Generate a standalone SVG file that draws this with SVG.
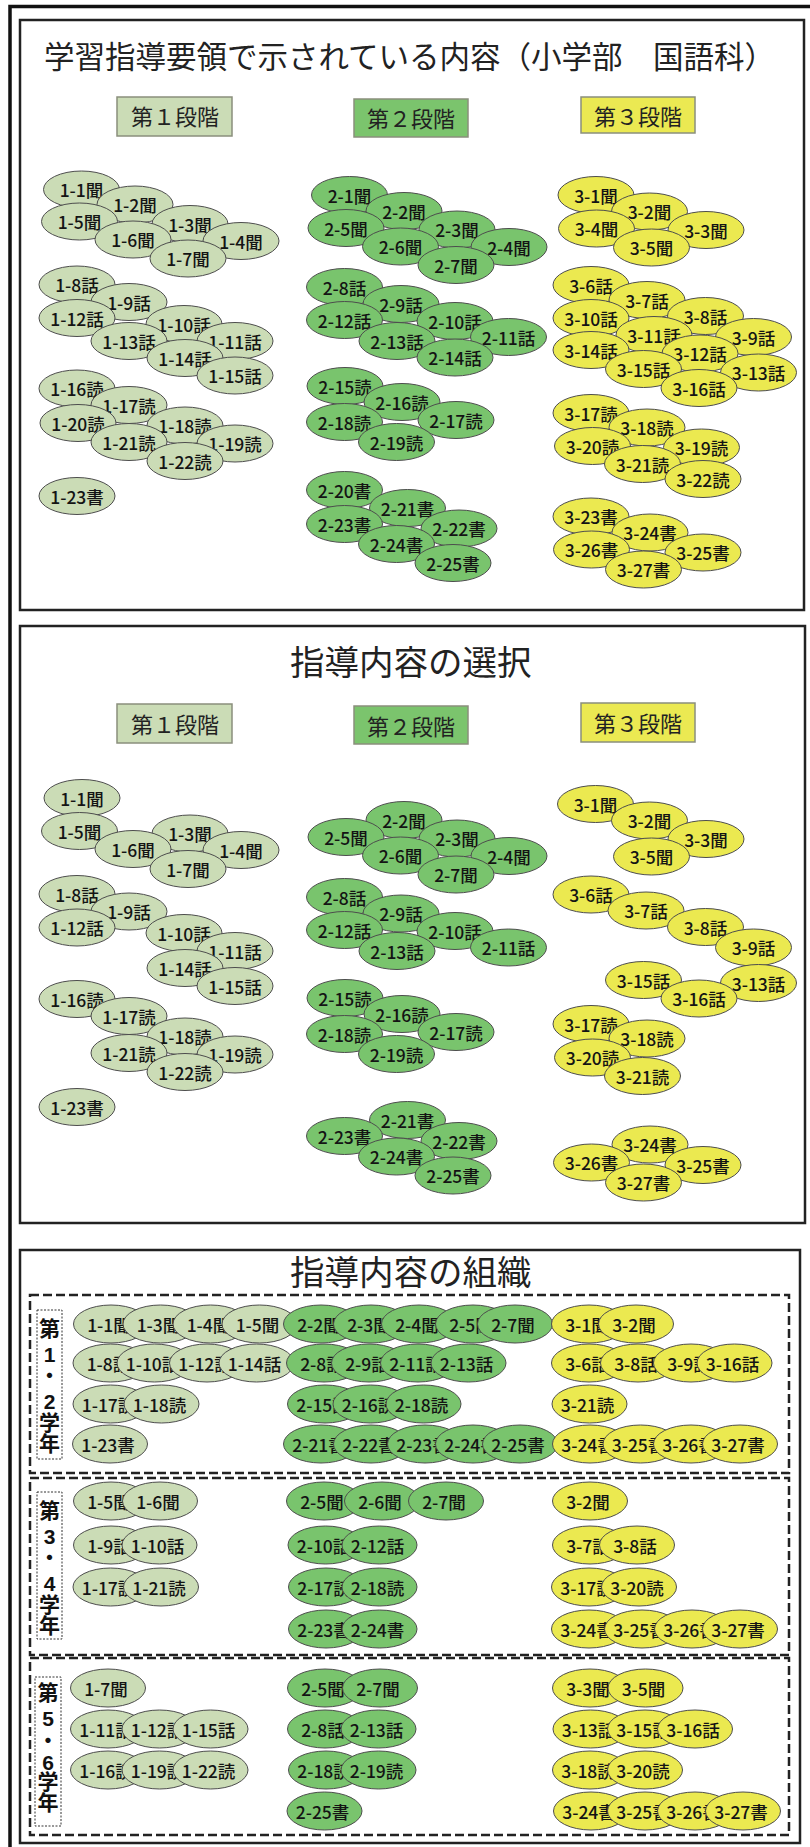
<svg xmlns="http://www.w3.org/2000/svg" width="810" height="1847" viewBox="0 0 810 1847">
<style>
.box{fill:#fff;stroke:#222;stroke-width:2.5}
.ttl{font-family:"Noto Sans CJK JP","Noto Sans CJK SC",sans-serif;fill:#222}
.lab text{font-family:"Noto Sans CJK JP","Noto Sans CJK SC",sans-serif;font-size:22px;text-anchor:middle;fill:#222}
.lab rect{stroke:#8a8f7c;stroke-width:1.5}
.f1{fill:#cbdcb6}.f2{fill:#7bc46d}.f3{fill:#ebe952}
.n text{font-family:"Noto Sans CJK JP","Noto Sans CJK SC",sans-serif;font-size:17.5px;font-weight:500;text-anchor:middle;fill:#141414}
.n ellipse{stroke:#4d4d4d;stroke-width:1}
.c1 ellipse{fill:#cbdcb6}.c2 ellipse{fill:#79c46d}.c3 ellipse{fill:#ebe950}
.sec{fill:none;stroke:#222;stroke-width:2.5;stroke-dasharray:9 4}
.yr rect{fill:#fff;stroke:#333;stroke-width:1;stroke-dasharray:2 1.5}
.yr text{font-family:"Liberation Sans","Noto Sans CJK JP",sans-serif;font-size:21px;font-weight:bold;text-anchor:middle;fill:#111}
</style>
<path d="M10,1847 V6.5 H810" fill="none" stroke="#111" stroke-width="3.5"/>

<g id="panel1">
<rect class="box" x="20" y="20" width="784" height="590"/>
<text class="ttl" x="44" y="67.5" font-size="30.5">学習指導要領で示されている内容（小学部　国語科）</text>
<g class="lab" id="p1-stage1"><rect class="f1" x="117" y="97" width="115" height="39"/><text x="175" y="125">第１段階</text></g>
<g class="lab" id="p1-stage2"><rect class="f2" x="354" y="99" width="114" height="38"/><text x="411" y="127">第２段階</text></g>
<g class="lab" id="p1-stage3"><rect class="f3" x="581" y="97" width="114" height="36"/><text x="638" y="124.5">第３段階</text></g>
</g>

<g id="p1-nodes">
<g id="p1-1-1" class="n c1"><ellipse cx="81.5" cy="189.5" rx="38" ry="18.5"/><text x="81.5" y="197">1-1聞</text></g>
<g id="p1-1-2" class="n c1"><ellipse cx="135" cy="204.5" rx="38" ry="18.5"/><text x="135" y="212">1-2聞</text></g>
<g id="p1-1-3" class="n c1"><ellipse cx="190" cy="224" rx="38" ry="18.5"/><text x="190" y="231.5">1-3聞</text></g>
<g id="p1-1-4" class="n c1"><ellipse cx="241" cy="241" rx="38" ry="18.5"/><text x="241" y="248.5">1-4聞</text></g>
<g id="p1-1-5" class="n c1"><ellipse cx="79.5" cy="221.5" rx="38" ry="18.5"/><text x="79.5" y="229">1-5聞</text></g>
<g id="p1-1-6" class="n c1"><ellipse cx="133" cy="239.5" rx="38" ry="18.5"/><text x="133" y="247">1-6聞</text></g>
<g id="p1-1-7" class="n c1"><ellipse cx="188" cy="258.5" rx="38" ry="18.5"/><text x="188" y="266">1-7聞</text></g>
<g id="p1-1-8" class="n c1"><ellipse cx="77" cy="284.5" rx="38" ry="18.5"/><text x="77" y="292">1-8話</text></g>
<g id="p1-1-9" class="n c1"><ellipse cx="129" cy="302" rx="38" ry="18.5"/><text x="129" y="309.5">1-9話</text></g>
<g id="p1-1-10" class="n c1"><ellipse cx="184" cy="324" rx="38" ry="18.5"/><text x="184" y="331.5">1-10話</text></g>
<g id="p1-1-11" class="n c1"><ellipse cx="235" cy="341" rx="38" ry="18.5"/><text x="235" y="348.5">1-11話</text></g>
<g id="p1-1-12" class="n c1"><ellipse cx="77" cy="318" rx="38" ry="18.5"/><text x="77" y="325.5">1-12話</text></g>
<g id="p1-1-13" class="n c1"><ellipse cx="129" cy="341" rx="38" ry="18.5"/><text x="129" y="348.5">1-13話</text></g>
<g id="p1-1-14" class="n c1"><ellipse cx="185" cy="358" rx="38" ry="18.5"/><text x="185" y="365.5">1-14話</text></g>
<g id="p1-1-15" class="n c1"><ellipse cx="235" cy="375.5" rx="38" ry="18.5"/><text x="235" y="383">1-15話</text></g>
<g id="p1-1-16" class="n c1"><ellipse cx="77" cy="388.5" rx="38" ry="18.5"/><text x="77" y="396">1-16読</text></g>
<g id="p1-1-17" class="n c1"><ellipse cx="129" cy="405" rx="38" ry="18.5"/><text x="129" y="412.5">1-17読</text></g>
<g id="p1-1-18" class="n c1"><ellipse cx="185" cy="425.5" rx="38" ry="18.5"/><text x="185" y="433">1-18読</text></g>
<g id="p1-1-19" class="n c1"><ellipse cx="235" cy="443.5" rx="38" ry="18.5"/><text x="235" y="451">1-19読</text></g>
<g id="p1-1-20" class="n c1"><ellipse cx="78" cy="423" rx="38" ry="18.5"/><text x="78" y="430.5">1-20読</text></g>
<g id="p1-1-21" class="n c1"><ellipse cx="129" cy="442" rx="38" ry="18.5"/><text x="129" y="449.5">1-21読</text></g>
<g id="p1-1-22" class="n c1"><ellipse cx="185" cy="461" rx="38" ry="18.5"/><text x="185" y="468.5">1-22読</text></g>
<g id="p1-1-23" class="n c1"><ellipse cx="77" cy="496" rx="38" ry="18.5"/><text x="77" y="503.5">1-23書</text></g>

<g id="p1-2-1" class="n c2"><ellipse cx="349.5" cy="195" rx="38" ry="18.5"/><text x="349.5" y="202.5">2-1聞</text></g>
<g id="p1-2-2" class="n c2"><ellipse cx="404" cy="211" rx="38" ry="18.5"/><text x="404" y="218.5">2-2聞</text></g>
<g id="p1-2-3" class="n c2"><ellipse cx="457" cy="229.5" rx="38" ry="18.5"/><text x="457" y="237">2-3聞</text></g>
<g id="p1-2-4" class="n c2"><ellipse cx="509" cy="247" rx="38" ry="18.5"/><text x="509" y="254.5">2-4聞</text></g>
<g id="p1-2-5" class="n c2"><ellipse cx="346" cy="228" rx="38" ry="18.5"/><text x="346" y="235.5">2-5聞</text></g>
<g id="p1-2-6" class="n c2"><ellipse cx="400.5" cy="246.5" rx="38" ry="18.5"/><text x="400.5" y="254">2-6聞</text></g>
<g id="p1-2-7" class="n c2"><ellipse cx="456" cy="265" rx="38" ry="18.5"/><text x="456" y="272.5">2-7聞</text></g>
<g id="p1-2-8" class="n c2"><ellipse cx="344.5" cy="287" rx="38" ry="18.5"/><text x="344.5" y="294.5">2-8話</text></g>
<g id="p1-2-9" class="n c2"><ellipse cx="401" cy="304" rx="38" ry="18.5"/><text x="401" y="311.5">2-9話</text></g>
<g id="p1-2-10" class="n c2"><ellipse cx="455" cy="321" rx="38" ry="18.5"/><text x="455" y="328.5">2-10話</text></g>
<g id="p1-2-11" class="n c2"><ellipse cx="508.5" cy="337" rx="38" ry="18.5"/><text x="508.5" y="344.5">2-11話</text></g>
<g id="p1-2-12" class="n c2"><ellipse cx="344.5" cy="320" rx="38" ry="18.5"/><text x="344.5" y="327.5">2-12話</text></g>
<g id="p1-2-13" class="n c2"><ellipse cx="397" cy="341" rx="38" ry="18.5"/><text x="397" y="348.5">2-13話</text></g>
<g id="p1-2-14" class="n c2"><ellipse cx="455" cy="357.5" rx="38" ry="18.5"/><text x="455" y="365">2-14話</text></g>
<g id="p1-2-15" class="n c2"><ellipse cx="345" cy="386" rx="38" ry="18.5"/><text x="345" y="393.5">2-15読</text></g>
<g id="p1-2-16" class="n c2"><ellipse cx="402" cy="402" rx="38" ry="18.5"/><text x="402" y="409.5">2-16読</text></g>
<g id="p1-2-17" class="n c2"><ellipse cx="456" cy="420" rx="38" ry="18.5"/><text x="456" y="427.5">2-17読</text></g>
<g id="p1-2-18" class="n c2"><ellipse cx="344.5" cy="422" rx="38" ry="18.5"/><text x="344.5" y="429.5">2-18読</text></g>
<g id="p1-2-19" class="n c2"><ellipse cx="396.5" cy="442" rx="38" ry="18.5"/><text x="396.5" y="449.5">2-19読</text></g>
<g id="p1-2-20" class="n c2"><ellipse cx="344.5" cy="490" rx="38" ry="18.5"/><text x="344.5" y="497.5">2-20書</text></g>
<g id="p1-2-21" class="n c2"><ellipse cx="407.5" cy="508" rx="38" ry="18.5"/><text x="407.5" y="515.5">2-21書</text></g>
<g id="p1-2-22" class="n c2"><ellipse cx="459" cy="528.5" rx="38" ry="18.5"/><text x="459" y="536">2-22書</text></g>
<g id="p1-2-23" class="n c2"><ellipse cx="344.5" cy="524" rx="38" ry="18.5"/><text x="344.5" y="531.5">2-23書</text></g>
<g id="p1-2-24" class="n c2"><ellipse cx="396.5" cy="544" rx="38" ry="18.5"/><text x="396.5" y="551.5">2-24書</text></g>
<g id="p1-2-25" class="n c2"><ellipse cx="453" cy="563" rx="38" ry="18.5"/><text x="453" y="570.5">2-25書</text></g>

<g id="p1-3-1" class="n c3"><ellipse cx="596" cy="195" rx="38" ry="18.5"/><text x="596" y="202.5">3-1聞</text></g>
<g id="p1-3-2" class="n c3"><ellipse cx="649.5" cy="211.5" rx="38" ry="18.5"/><text x="649.5" y="219">3-2聞</text></g>
<g id="p1-3-3" class="n c3"><ellipse cx="706" cy="230" rx="38" ry="18.5"/><text x="706" y="237.5">3-3聞</text></g>
<g id="p1-3-4" class="n c3"><ellipse cx="596.5" cy="228.5" rx="38" ry="18.5"/><text x="596.5" y="236">3-4聞</text></g>
<g id="p1-3-5" class="n c3"><ellipse cx="651.5" cy="247.5" rx="38" ry="18.5"/><text x="651.5" y="255">3-5聞</text></g>
<g id="p1-3-6" class="n c3"><ellipse cx="591" cy="285" rx="38" ry="18.5"/><text x="591" y="292.5">3-6話</text></g>
<g id="p1-3-7" class="n c3"><ellipse cx="647" cy="300" rx="38" ry="18.5"/><text x="647" y="307.5">3-7話</text></g>
<g id="p1-3-8" class="n c3"><ellipse cx="705.5" cy="316" rx="38" ry="18.5"/><text x="705.5" y="323.5">3-8話</text></g>
<g id="p1-3-9" class="n c3"><ellipse cx="753.5" cy="337" rx="38" ry="18.5"/><text x="753.5" y="344.5">3-9話</text></g>
<g id="p1-3-10" class="n c3"><ellipse cx="591" cy="318" rx="38" ry="18.5"/><text x="591" y="325.5">3-10話</text></g>
<g id="p1-3-11" class="n c3"><ellipse cx="654" cy="335" rx="38" ry="18.5"/><text x="654" y="342.5">3-11話</text></g>
<g id="p1-3-12" class="n c3"><ellipse cx="700" cy="353.5" rx="38" ry="18.5"/><text x="700" y="361">3-12話</text></g>
<g id="p1-3-13" class="n c3"><ellipse cx="758.5" cy="372.5" rx="38" ry="18.5"/><text x="758.5" y="380">3-13話</text></g>
<g id="p1-3-14" class="n c3"><ellipse cx="591" cy="350" rx="38" ry="18.5"/><text x="591" y="357.5">3-14話</text></g>
<g id="p1-3-15" class="n c3"><ellipse cx="643.5" cy="369" rx="38" ry="18.5"/><text x="643.5" y="376.5">3-15話</text></g>
<g id="p1-3-16" class="n c3"><ellipse cx="699" cy="388" rx="38" ry="18.5"/><text x="699" y="395.5">3-16話</text></g>
<g id="p1-3-17" class="n c3"><ellipse cx="591" cy="413" rx="38" ry="18.5"/><text x="591" y="420.5">3-17読</text></g>
<g id="p1-3-18" class="n c3"><ellipse cx="647" cy="427.5" rx="38" ry="18.5"/><text x="647" y="435">3-18読</text></g>
<g id="p1-3-19" class="n c3"><ellipse cx="701.5" cy="447.5" rx="38" ry="18.5"/><text x="701.5" y="455">3-19読</text></g>
<g id="p1-3-20" class="n c3"><ellipse cx="592.5" cy="446" rx="38" ry="18.5"/><text x="592.5" y="453.5">3-20読</text></g>
<g id="p1-3-21" class="n c3"><ellipse cx="642.5" cy="464" rx="38" ry="18.5"/><text x="642.5" y="471.5">3-21読</text></g>
<g id="p1-3-22" class="n c3"><ellipse cx="703" cy="479" rx="38" ry="18.5"/><text x="703" y="486.5">3-22読</text></g>
<g id="p1-3-23" class="n c3"><ellipse cx="591" cy="516.5" rx="38" ry="18.5"/><text x="591" y="524">3-23書</text></g>
<g id="p1-3-24" class="n c3"><ellipse cx="650" cy="532.5" rx="38" ry="18.5"/><text x="650" y="540">3-24書</text></g>
<g id="p1-3-25" class="n c3"><ellipse cx="703" cy="552.5" rx="38" ry="18.5"/><text x="703" y="560">3-25書</text></g>
<g id="p1-3-26" class="n c3"><ellipse cx="591.5" cy="549.5" rx="38" ry="18.5"/><text x="591.5" y="557">3-26書</text></g>
<g id="p1-3-27" class="n c3"><ellipse cx="643.5" cy="569.5" rx="38" ry="18.5"/><text x="643.5" y="577">3-27書</text></g>
</g>

<g id="panel2">
<rect class="box" x="20" y="626" width="785" height="597"/>
<text class="ttl" x="290" y="675" font-size="34.5">指導内容の選択</text>
<g class="lab" id="p2-stage1"><rect class="f1" x="117" y="704" width="115" height="39"/><text x="175" y="733">第１段階</text></g>
<g class="lab" id="p2-stage2"><rect class="f2" x="354" y="706" width="114" height="38"/><text x="411" y="735">第２段階</text></g>
<g class="lab" id="p2-stage3"><rect class="f3" x="581" y="703" width="114" height="39"/><text x="638" y="732">第３段階</text></g>
</g>

<g id="p2-nodes">
<g id="p2-1-1" class="n c1"><ellipse cx="82" cy="798" rx="38" ry="18.5"/><text x="82" y="805.5">1-1聞</text></g>
<g id="p2-1-3" class="n c1"><ellipse cx="190" cy="833.5" rx="38" ry="18.5"/><text x="190" y="841">1-3聞</text></g>
<g id="p2-1-4" class="n c1"><ellipse cx="241" cy="850" rx="38" ry="18.5"/><text x="241" y="857.5">1-4聞</text></g>
<g id="p2-1-5" class="n c1"><ellipse cx="79.5" cy="831" rx="38" ry="18.5"/><text x="79.5" y="838.5">1-5聞</text></g>
<g id="p2-1-6" class="n c1"><ellipse cx="133" cy="849" rx="38" ry="18.5"/><text x="133" y="856.5">1-6聞</text></g>
<g id="p2-1-7" class="n c1"><ellipse cx="188" cy="869" rx="38" ry="18.5"/><text x="188" y="876.5">1-7聞</text></g>
<g id="p2-1-8" class="n c1"><ellipse cx="77" cy="894" rx="38" ry="18.5"/><text x="77" y="901.5">1-8話</text></g>
<g id="p2-1-9" class="n c1"><ellipse cx="129" cy="911.5" rx="38" ry="18.5"/><text x="129" y="919">1-9話</text></g>
<g id="p2-1-10" class="n c1"><ellipse cx="184" cy="933" rx="38" ry="18.5"/><text x="184" y="940.5">1-10話</text></g>
<g id="p2-1-11" class="n c1"><ellipse cx="235" cy="951" rx="38" ry="18.5"/><text x="235" y="958.5">1-11話</text></g>
<g id="p2-1-12" class="n c1"><ellipse cx="77" cy="927.5" rx="38" ry="18.5"/><text x="77" y="935">1-12話</text></g>
<g id="p2-1-14" class="n c1"><ellipse cx="185" cy="968" rx="38" ry="18.5"/><text x="185" y="975.5">1-14話</text></g>
<g id="p2-1-15" class="n c1"><ellipse cx="235" cy="986" rx="38" ry="18.5"/><text x="235" y="993.5">1-15話</text></g>
<g id="p2-1-16" class="n c1"><ellipse cx="77" cy="999" rx="38" ry="18.5"/><text x="77" y="1006.5">1-16読</text></g>
<g id="p2-1-17" class="n c1"><ellipse cx="129" cy="1016" rx="38" ry="18.5"/><text x="129" y="1023.5">1-17読</text></g>
<g id="p2-1-18" class="n c1"><ellipse cx="185" cy="1036.5" rx="38" ry="18.5"/><text x="185" y="1044">1-18読</text></g>
<g id="p2-1-19" class="n c1"><ellipse cx="235" cy="1054.5" rx="38" ry="18.5"/><text x="235" y="1062">1-19読</text></g>
<g id="p2-1-21" class="n c1"><ellipse cx="129" cy="1053" rx="38" ry="18.5"/><text x="129" y="1060.5">1-21読</text></g>
<g id="p2-1-22" class="n c1"><ellipse cx="185" cy="1072" rx="38" ry="18.5"/><text x="185" y="1079.5">1-22読</text></g>
<g id="p2-1-23" class="n c1"><ellipse cx="77" cy="1107" rx="38" ry="18.5"/><text x="77" y="1114.5">1-23書</text></g>

<g id="p2-2-2" class="n c2"><ellipse cx="404" cy="820" rx="38" ry="18.5"/><text x="404" y="827.5">2-2聞</text></g>
<g id="p2-2-3" class="n c2"><ellipse cx="457" cy="838.5" rx="38" ry="18.5"/><text x="457" y="846">2-3聞</text></g>
<g id="p2-2-4" class="n c2"><ellipse cx="509" cy="856" rx="38" ry="18.5"/><text x="509" y="863.5">2-4聞</text></g>
<g id="p2-2-5" class="n c2"><ellipse cx="346" cy="837" rx="38" ry="18.5"/><text x="346" y="844.5">2-5聞</text></g>
<g id="p2-2-6" class="n c2"><ellipse cx="400.5" cy="855.5" rx="38" ry="18.5"/><text x="400.5" y="863">2-6聞</text></g>
<g id="p2-2-7" class="n c2"><ellipse cx="456" cy="874.5" rx="38" ry="18.5"/><text x="456" y="882">2-7聞</text></g>
<g id="p2-2-8" class="n c2"><ellipse cx="344.5" cy="897" rx="38" ry="18.5"/><text x="344.5" y="904.5">2-8話</text></g>
<g id="p2-2-9" class="n c2"><ellipse cx="401" cy="913.5" rx="38" ry="18.5"/><text x="401" y="921">2-9話</text></g>
<g id="p2-2-10" class="n c2"><ellipse cx="455" cy="931" rx="38" ry="18.5"/><text x="455" y="938.5">2-10話</text></g>
<g id="p2-2-11" class="n c2"><ellipse cx="508.5" cy="947.5" rx="38" ry="18.5"/><text x="508.5" y="955">2-11話</text></g>
<g id="p2-2-12" class="n c2"><ellipse cx="344.5" cy="930" rx="38" ry="18.5"/><text x="344.5" y="937.5">2-12話</text></g>
<g id="p2-2-13" class="n c2"><ellipse cx="397" cy="951" rx="38" ry="18.5"/><text x="397" y="958.5">2-13話</text></g>
<g id="p2-2-15" class="n c2"><ellipse cx="345" cy="998" rx="38" ry="18.5"/><text x="345" y="1005.5">2-15読</text></g>
<g id="p2-2-16" class="n c2"><ellipse cx="402" cy="1014" rx="38" ry="18.5"/><text x="402" y="1021.5">2-16読</text></g>
<g id="p2-2-17" class="n c2"><ellipse cx="456" cy="1032" rx="38" ry="18.5"/><text x="456" y="1039.5">2-17読</text></g>
<g id="p2-2-18" class="n c2"><ellipse cx="344.5" cy="1034" rx="38" ry="18.5"/><text x="344.5" y="1041.5">2-18読</text></g>
<g id="p2-2-19" class="n c2"><ellipse cx="396.5" cy="1054" rx="38" ry="18.5"/><text x="396.5" y="1061.5">2-19読</text></g>
<g id="p2-2-21" class="n c2"><ellipse cx="407.5" cy="1120" rx="38" ry="18.5"/><text x="407.5" y="1127.5">2-21書</text></g>
<g id="p2-2-22" class="n c2"><ellipse cx="459" cy="1141" rx="38" ry="18.5"/><text x="459" y="1148.5">2-22書</text></g>
<g id="p2-2-23" class="n c2"><ellipse cx="344.5" cy="1136" rx="38" ry="18.5"/><text x="344.5" y="1143.5">2-23書</text></g>
<g id="p2-2-24" class="n c2"><ellipse cx="396.5" cy="1156.5" rx="38" ry="18.5"/><text x="396.5" y="1164">2-24書</text></g>
<g id="p2-2-25" class="n c2"><ellipse cx="453" cy="1175.5" rx="38" ry="18.5"/><text x="453" y="1183">2-25書</text></g>

<g id="p2-3-1" class="n c3"><ellipse cx="595.5" cy="804" rx="38" ry="18.5"/><text x="595.5" y="811.5">3-1聞</text></g>
<g id="p2-3-2" class="n c3"><ellipse cx="649.5" cy="820.5" rx="38" ry="18.5"/><text x="649.5" y="828">3-2聞</text></g>
<g id="p2-3-3" class="n c3"><ellipse cx="706" cy="839" rx="38" ry="18.5"/><text x="706" y="846.5">3-3聞</text></g>
<g id="p2-3-5" class="n c3"><ellipse cx="651.5" cy="856.5" rx="38" ry="18.5"/><text x="651.5" y="864">3-5聞</text></g>
<g id="p2-3-6" class="n c3"><ellipse cx="591" cy="894.5" rx="38" ry="18.5"/><text x="591" y="902">3-6話</text></g>
<g id="p2-3-7" class="n c3"><ellipse cx="646" cy="910.5" rx="38" ry="18.5"/><text x="646" y="918">3-7話</text></g>
<g id="p2-3-8" class="n c3"><ellipse cx="705.5" cy="927" rx="38" ry="18.5"/><text x="705.5" y="934.5">3-8話</text></g>
<g id="p2-3-9" class="n c3"><ellipse cx="753.5" cy="947.5" rx="38" ry="18.5"/><text x="753.5" y="955">3-9話</text></g>
<g id="p2-3-13" class="n c3"><ellipse cx="758.5" cy="983" rx="38" ry="18.5"/><text x="758.5" y="990.5">3-13話</text></g>
<g id="p2-3-15" class="n c3"><ellipse cx="643.5" cy="980" rx="38" ry="18.5"/><text x="643.5" y="987.5">3-15話</text></g>
<g id="p2-3-16" class="n c3"><ellipse cx="699" cy="998.5" rx="38" ry="18.5"/><text x="699" y="1006">3-16話</text></g>
<g id="p2-3-17" class="n c3"><ellipse cx="591" cy="1024" rx="38" ry="18.5"/><text x="591" y="1031.5">3-17読</text></g>
<g id="p2-3-18" class="n c3"><ellipse cx="647" cy="1038.5" rx="38" ry="18.5"/><text x="647" y="1046">3-18読</text></g>
<g id="p2-3-20" class="n c3"><ellipse cx="592.5" cy="1057.5" rx="38" ry="18.5"/><text x="592.5" y="1065">3-20読</text></g>
<g id="p2-3-21" class="n c3"><ellipse cx="642.5" cy="1076" rx="38" ry="18.5"/><text x="642.5" y="1083.5">3-21読</text></g>
<g id="p2-3-24" class="n c3"><ellipse cx="650" cy="1144.5" rx="38" ry="18.5"/><text x="650" y="1152">3-24書</text></g>
<g id="p2-3-25" class="n c3"><ellipse cx="703" cy="1165" rx="38" ry="18.5"/><text x="703" y="1172.5">3-25書</text></g>
<g id="p2-3-26" class="n c3"><ellipse cx="591.5" cy="1162.5" rx="38" ry="18.5"/><text x="591.5" y="1170">3-26書</text></g>
<g id="p2-3-27" class="n c3"><ellipse cx="643.5" cy="1182.5" rx="38" ry="18.5"/><text x="643.5" y="1190">3-27書</text></g>
</g>

<g id="panel3">
<rect class="box" x="20" y="1250" width="780" height="593"/>
<text class="ttl" x="290" y="1285" font-size="34.5">指導内容の組織</text>
<rect class="sec" x="30" y="1295" width="759" height="178"/>
<rect class="sec" x="30" y="1478" width="759" height="177"/>
<rect class="sec" x="30" y="1658" width="759" height="177"/>
<g class="yr" id="yr12"><rect x="37" y="1310" width="25" height="149"/>
<text x="49.5" y="1336">第</text><text x="49.5" y="1361.5">1</text><text x="49.5" y="1383">・</text><text x="49.5" y="1408.5">2</text><text x="49.5" y="1430">学</text><text x="49.5" y="1451">年</text></g>
<g class="yr" id="yr34"><rect x="37" y="1492" width="25" height="147"/>
<text x="49.5" y="1518">第</text><text x="49.5" y="1543.5">3</text><text x="49.5" y="1565">・</text><text x="49.5" y="1590.5">4</text><text x="49.5" y="1612">学</text><text x="49.5" y="1633">年</text></g>
<g class="yr" id="yr56"><rect x="35" y="1677" width="26" height="149"/>
<text x="48" y="1700">第</text><text x="48" y="1725.5">5</text><text x="48" y="1748">・</text><text x="48" y="1769.5">6</text><text x="48" y="1789">学</text><text x="48" y="1810">年</text></g>
</g>

<g id="p3-nodes">
<g id="a-1-1" class="n c1"><ellipse cx="111" cy="1324" rx="37.5" ry="19"/><text x="109" y="1331.5">1-1聞</text></g>
<g id="a-1-3" class="n c1"><ellipse cx="160.5" cy="1324" rx="37.5" ry="19"/><text x="158.5" y="1331.5">1-3聞</text></g>
<g id="a-1-4" class="n c1"><ellipse cx="210.5" cy="1324" rx="37.5" ry="19"/><text x="208.5" y="1331.5">1-4聞</text></g>
<g id="a-1-5" class="n c1"><ellipse cx="259.5" cy="1324" rx="37.5" ry="19"/><text x="257.5" y="1331.5">1-5聞</text></g>
<g id="a-2-2" class="n c2"><ellipse cx="321" cy="1324" rx="37.5" ry="19"/><text x="319" y="1331.5">2-2聞</text></g>
<g id="a-2-3" class="n c2"><ellipse cx="371" cy="1324" rx="37.5" ry="19"/><text x="369" y="1331.5">2-3聞</text></g>
<g id="a-2-4" class="n c2"><ellipse cx="419" cy="1324" rx="37.5" ry="19"/><text x="417" y="1331.5">2-4聞</text></g>
<g id="a-2-5" class="n c2"><ellipse cx="473" cy="1324" rx="37.5" ry="19"/><text x="471" y="1331.5">2-5聞</text></g>
<g id="a-2-7" class="n c2"><ellipse cx="515" cy="1324" rx="37.5" ry="19"/><text x="513" y="1331.5">2-7聞</text></g>
<g id="a-3-1" class="n c3"><ellipse cx="589" cy="1324" rx="37.5" ry="19"/><text x="587" y="1331.5">3-1聞</text></g>
<g id="a-3-2" class="n c3"><ellipse cx="636" cy="1324" rx="37.5" ry="19"/><text x="634" y="1331.5">3-2聞</text></g>
<g id="a-1-8" class="n c1"><ellipse cx="110.5" cy="1363" rx="37.5" ry="19"/><text x="108.5" y="1370.5">1-8話</text></g>
<g id="a-1-10" class="n c1"><ellipse cx="154.5" cy="1363" rx="37.5" ry="19"/><text x="152.5" y="1370.5">1-10話</text></g>
<g id="a-1-12" class="n c1"><ellipse cx="207" cy="1363" rx="37.5" ry="19"/><text x="205" y="1370.5">1-12話</text></g>
<g id="a-1-14" class="n c1"><ellipse cx="256.5" cy="1363" rx="37.5" ry="19"/><text x="254.5" y="1370.5">1-14話</text></g>
<g id="a-2-8" class="n c2"><ellipse cx="324" cy="1363" rx="37.5" ry="19"/><text x="322" y="1370.5">2-8話</text></g>
<g id="a-2-9" class="n c2"><ellipse cx="369" cy="1363" rx="37.5" ry="19"/><text x="367" y="1370.5">2-9話</text></g>
<g id="a-2-11" class="n c2"><ellipse cx="418" cy="1363" rx="37.5" ry="19"/><text x="416" y="1370.5">2-11話</text></g>
<g id="a-2-13" class="n c2"><ellipse cx="468.5" cy="1363" rx="37.5" ry="19"/><text x="466.5" y="1370.5">2-13話</text></g>
<g id="a-3-6" class="n c3"><ellipse cx="589" cy="1363" rx="37.5" ry="19"/><text x="587" y="1370.5">3-6話</text></g>
<g id="a-3-8" class="n c3"><ellipse cx="638" cy="1363" rx="37.5" ry="19"/><text x="636" y="1370.5">3-8話</text></g>
<g id="a-3-9" class="n c3"><ellipse cx="691" cy="1363" rx="37.5" ry="19"/><text x="689" y="1370.5">3-9話</text></g>
<g id="a-3-16" class="n c3"><ellipse cx="734.5" cy="1363" rx="37.5" ry="19"/><text x="732.5" y="1370.5">3-16話</text></g>
<g id="a-1-17" class="n c1"><ellipse cx="110.5" cy="1404" rx="37.5" ry="19"/><text x="108.5" y="1411.5">1-17読</text></g>
<g id="a-1-18" class="n c1"><ellipse cx="161.5" cy="1404" rx="37.5" ry="19"/><text x="159.5" y="1411.5">1-18読</text></g>
<g id="a-2-15" class="n c2"><ellipse cx="325" cy="1404" rx="37.5" ry="19"/><text x="323" y="1411.5">2-15読</text></g>
<g id="a-2-16" class="n c2"><ellipse cx="370.5" cy="1404" rx="37.5" ry="19"/><text x="368.5" y="1411.5">2-16読</text></g>
<g id="a-2-18" class="n c2"><ellipse cx="423.5" cy="1404" rx="37.5" ry="19"/><text x="421.5" y="1411.5">2-18読</text></g>
<g id="a-3-21" class="n c3"><ellipse cx="589.5" cy="1404" rx="37.5" ry="19"/><text x="587.5" y="1411.5">3-21読</text></g>
<g id="a-1-23" class="n c1"><ellipse cx="110" cy="1444" rx="37.5" ry="19"/><text x="108" y="1451.5">1-23書</text></g>
<g id="a-2-21" class="n c2"><ellipse cx="321" cy="1444" rx="37.5" ry="19"/><text x="319" y="1451.5">2-21書</text></g>
<g id="a-2-22" class="n c2"><ellipse cx="371" cy="1444" rx="37.5" ry="19"/><text x="369" y="1451.5">2-22書</text></g>
<g id="a-2-23" class="n c2"><ellipse cx="425" cy="1444" rx="37.5" ry="19"/><text x="423" y="1451.5">2-23書</text></g>
<g id="a-2-24" class="n c2"><ellipse cx="473" cy="1444" rx="37.5" ry="19"/><text x="471" y="1451.5">2-24書</text></g>
<g id="a-2-25" class="n c2"><ellipse cx="520" cy="1444" rx="37.5" ry="19"/><text x="518" y="1451.5">2-25書</text></g>
<g id="a-3-24" class="n c3"><ellipse cx="590" cy="1444" rx="37.5" ry="19"/><text x="588" y="1451.5">3-24書</text></g>
<g id="a-3-25" class="n c3"><ellipse cx="640.5" cy="1444" rx="37.5" ry="19"/><text x="638.5" y="1451.5">3-25書</text></g>
<g id="a-3-26" class="n c3"><ellipse cx="691" cy="1444" rx="37.5" ry="19"/><text x="689" y="1451.5">3-26書</text></g>
<g id="a-3-27" class="n c3"><ellipse cx="740" cy="1444" rx="37.5" ry="19"/><text x="738" y="1451.5">3-27書</text></g>

<g id="b-1-5" class="n c1"><ellipse cx="111" cy="1501" rx="37.5" ry="19"/><text x="109" y="1508.5">1-5聞</text></g>
<g id="b-1-6" class="n c1"><ellipse cx="160" cy="1501" rx="37.5" ry="19"/><text x="158" y="1508.5">1-6聞</text></g>
<g id="b-2-5" class="n c2"><ellipse cx="324" cy="1501" rx="37.5" ry="19"/><text x="322" y="1508.5">2-5聞</text></g>
<g id="b-2-6" class="n c2"><ellipse cx="382" cy="1501" rx="37.5" ry="19"/><text x="380" y="1508.5">2-6聞</text></g>
<g id="b-2-7" class="n c2"><ellipse cx="446" cy="1501" rx="37.5" ry="19"/><text x="444" y="1508.5">2-7聞</text></g>
<g id="b-3-2" class="n c3"><ellipse cx="590" cy="1501" rx="37.5" ry="19"/><text x="588" y="1508.5">3-2聞</text></g>
<g id="b-1-9" class="n c1"><ellipse cx="111" cy="1545" rx="37.5" ry="19"/><text x="109" y="1552.5">1-9話</text></g>
<g id="b-1-10" class="n c1"><ellipse cx="159.5" cy="1545" rx="37.5" ry="19"/><text x="157.5" y="1552.5">1-10話</text></g>
<g id="b-2-10" class="n c2"><ellipse cx="325.5" cy="1545" rx="37.5" ry="19"/><text x="323.5" y="1552.5">2-10話</text></g>
<g id="b-2-12" class="n c2"><ellipse cx="379.5" cy="1545" rx="37.5" ry="19"/><text x="377.5" y="1552.5">2-12話</text></g>
<g id="b-3-7" class="n c3"><ellipse cx="590" cy="1545" rx="37.5" ry="19"/><text x="588" y="1552.5">3-7話</text></g>
<g id="b-3-8" class="n c3"><ellipse cx="637" cy="1545" rx="37.5" ry="19"/><text x="635" y="1552.5">3-8話</text></g>
<g id="b-1-17" class="n c1"><ellipse cx="110.5" cy="1587" rx="37.5" ry="19"/><text x="108.5" y="1594.5">1-17読</text></g>
<g id="b-1-21" class="n c1"><ellipse cx="161" cy="1587" rx="37.5" ry="19"/><text x="159" y="1594.5">1-21読</text></g>
<g id="b-2-17" class="n c2"><ellipse cx="326" cy="1587" rx="37.5" ry="19"/><text x="324" y="1594.5">2-17読</text></g>
<g id="b-2-18" class="n c2"><ellipse cx="379.5" cy="1587" rx="37.5" ry="19"/><text x="377.5" y="1594.5">2-18読</text></g>
<g id="b-3-17" class="n c3"><ellipse cx="589" cy="1587" rx="37.5" ry="19"/><text x="587" y="1594.5">3-17読</text></g>
<g id="b-3-20" class="n c3"><ellipse cx="639" cy="1587" rx="37.5" ry="19"/><text x="637" y="1594.5">3-20読</text></g>
<g id="b-2-23" class="n c2"><ellipse cx="326" cy="1629" rx="37.5" ry="19"/><text x="324" y="1636.5">2-23書</text></g>
<g id="b-2-24" class="n c2"><ellipse cx="379.5" cy="1629" rx="37.5" ry="19"/><text x="377.5" y="1636.5">2-24書</text></g>
<g id="b-3-24" class="n c3"><ellipse cx="589" cy="1629" rx="37.5" ry="19"/><text x="587" y="1636.5">3-24書</text></g>
<g id="b-3-25" class="n c3"><ellipse cx="642" cy="1629" rx="37.5" ry="19"/><text x="640" y="1636.5">3-25書</text></g>
<g id="b-3-26" class="n c3"><ellipse cx="692" cy="1629" rx="37.5" ry="19"/><text x="690" y="1636.5">3-26書</text></g>
<g id="b-3-27" class="n c3"><ellipse cx="740" cy="1629" rx="37.5" ry="19"/><text x="738" y="1636.5">3-27書</text></g>

<g id="c-1-7" class="n c1"><ellipse cx="108" cy="1688" rx="37.5" ry="19"/><text x="106" y="1695.5">1-7聞</text></g>
<g id="c-2-5" class="n c2"><ellipse cx="325" cy="1688" rx="37.5" ry="19"/><text x="323" y="1695.5">2-5聞</text></g>
<g id="c-2-7" class="n c2"><ellipse cx="380" cy="1688" rx="37.5" ry="19"/><text x="378" y="1695.5">2-7聞</text></g>
<g id="c-3-3" class="n c3"><ellipse cx="590" cy="1688" rx="37.5" ry="19"/><text x="588" y="1695.5">3-3聞</text></g>
<g id="c-3-5" class="n c3"><ellipse cx="645.5" cy="1688" rx="37.5" ry="19"/><text x="643.5" y="1695.5">3-5聞</text></g>
<g id="c-1-11" class="n c1"><ellipse cx="108" cy="1729" rx="37.5" ry="19"/><text x="106" y="1736.5">1-11話</text></g>
<g id="c-1-12" class="n c1"><ellipse cx="159.5" cy="1729" rx="37.5" ry="19"/><text x="157.5" y="1736.5">1-12話</text></g>
<g id="c-1-15" class="n c1"><ellipse cx="210.5" cy="1729" rx="37.5" ry="19"/><text x="208.5" y="1736.5">1-15話</text></g>
<g id="c-2-8" class="n c2"><ellipse cx="325" cy="1729" rx="37.5" ry="19"/><text x="323" y="1736.5">2-8話</text></g>
<g id="c-2-13" class="n c2"><ellipse cx="378.5" cy="1729" rx="37.5" ry="19"/><text x="376.5" y="1736.5">2-13話</text></g>
<g id="c-3-13" class="n c3"><ellipse cx="590.5" cy="1729" rx="37.5" ry="19"/><text x="588.5" y="1736.5">3-13話</text></g>
<g id="c-3-15" class="n c3"><ellipse cx="645" cy="1729" rx="37.5" ry="19"/><text x="643" y="1736.5">3-15話</text></g>
<g id="c-3-16" class="n c3"><ellipse cx="695" cy="1729" rx="37.5" ry="19"/><text x="693" y="1736.5">3-16話</text></g>
<g id="c-1-16" class="n c1"><ellipse cx="108" cy="1770" rx="37.5" ry="19"/><text x="106" y="1777.5">1-16読</text></g>
<g id="c-1-19" class="n c1"><ellipse cx="159.5" cy="1770" rx="37.5" ry="19"/><text x="157.5" y="1777.5">1-19読</text></g>
<g id="c-1-22" class="n c1"><ellipse cx="210.5" cy="1770" rx="37.5" ry="19"/><text x="208.5" y="1777.5">1-22読</text></g>
<g id="c-2-18" class="n c2"><ellipse cx="326" cy="1770" rx="37.5" ry="19"/><text x="324" y="1777.5">2-18読</text></g>
<g id="c-2-19" class="n c2"><ellipse cx="378.5" cy="1770" rx="37.5" ry="19"/><text x="376.5" y="1777.5">2-19読</text></g>
<g id="c-3-18" class="n c3"><ellipse cx="590" cy="1770" rx="37.5" ry="19"/><text x="588" y="1777.5">3-18読</text></g>
<g id="c-3-20" class="n c3"><ellipse cx="645" cy="1770" rx="37.5" ry="19"/><text x="643" y="1777.5">3-20読</text></g>
<g id="c-2-25" class="n c2"><ellipse cx="324.5" cy="1811" rx="37.5" ry="19"/><text x="322.5" y="1818.5">2-25書</text></g>
<g id="c-3-24" class="n c3"><ellipse cx="591" cy="1811" rx="37.5" ry="19"/><text x="589" y="1818.5">3-24書</text></g>
<g id="c-3-25" class="n c3"><ellipse cx="645" cy="1811" rx="37.5" ry="19"/><text x="643" y="1818.5">3-25書</text></g>
<g id="c-3-26" class="n c3"><ellipse cx="695" cy="1811" rx="37.5" ry="19"/><text x="693" y="1818.5">3-26書</text></g>
<g id="c-3-27" class="n c3"><ellipse cx="743" cy="1811" rx="37.5" ry="19"/><text x="741" y="1818.5">3-27書</text></g>
</g>
</svg>
